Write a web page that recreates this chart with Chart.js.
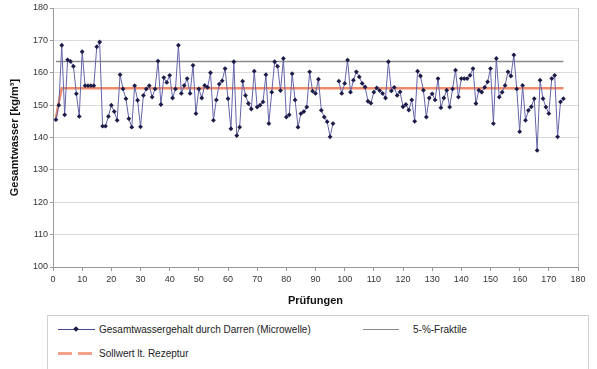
<!DOCTYPE html>
<html>
<head>
<meta charset="utf-8">
<script src="https://cdn.jsdelivr.net/npm/chart.js@4/dist/chart.umd.min.js"></script>
<style>
  body { margin: 0; background: #fff; font-family: "Liberation Sans", Arial, sans-serif; }
  #wrap { position: relative; width: 597px; height: 369px; overflow: hidden; }
  #legende { position: absolute; left: 47px; top: 315px; width: 540px; height: 60px;
             border: 1px solid #d0d0d0; background: #fff; font-size: 10px; color: #222; }
  .item { position: absolute; white-space: nowrap; line-height: 12px; }
  .linie { position: absolute; }
</style>
</head>
<body>
<div id="wrap">
  <canvas id="chart" width="597" height="369"></canvas>
  <div id="legende">
    <div class="linie" style="left:10px;top:13px;width:37px;border-top:1px solid #4a4a90;"></div>
    <div class="linie" style="left:26px;top:11px;width:4px;height:4px;background:#1c1c48;transform:rotate(45deg);"></div>
    <div class="item" style="left:51px;top:8px;">Gesamtwassergehalt durch Darren (Microwelle)</div>
    <div class="linie" style="left:315px;top:13px;width:36px;border-top:1px solid #8a8a8a;"></div>
    <div class="item" style="left:365px;top:8px;">5-%-Fraktile</div>
    <div class="linie" style="left:10px;top:36px;width:14px;border-top:3px solid #f2a387;"></div>
    <div class="linie" style="left:30px;top:36px;width:14px;border-top:3px solid #f2a387;"></div>
    <div class="item" style="left:51px;top:32px;">Sollwert lt. Rezeptur</div>
  </div>
</div>
<script>
// Gesamtwassergehalt je Prüfung (Prüfung 1 ... 175), null = Lücke
const gesamtwasser = [
  145.5, 150, 168.5, 147, 164, 163.5, 162, 153.5, 146.5, 166.5,
  156, 156, 156, 156, 168, 169.5, 143.5, 143.5, 146.5, 150,
  148, 145.3, 159.4, 155, 152, 145.8, 143.2, 156, 151.5, 143.3,
  153, 155, 156, 152.5, 155, 163.6, 150.2, 158.5, 157, 159.2,
  152.2, 155, 168.5, 153.6, 156.1, 158.2, 153.6, 162.3, 147.4, 155,
  152.2, 156.1, 155.5, 160, 145.3, 151.6, 156.5, 157.5, 161.3, 152,
  142.7, 163.4, 140.6, 143.2, 157.4, 153, 150.5, 148.8, 160.5, 149.4,
  150, 151, 159.4, 144.3, 154, 163.4, 162, 154.5, 164.4, 146.3,
  147, 159.7, 151.6, 143.2, 147.4, 148, 149.4, 160.3, 154.3, 153.6,
  158, 148.4, 146.3, 144.9, 140.2, 144.3, null, 157.4, 153.6, 156.7,
  163.9, 154, 157.7, 160.3, 158.7, 156.7, 155.6, 151.2, 150.6, 154,
  155.3, 154.5, 153.6, 152.2, 163.4, 154.4, 155.5, 153, 154.1, 149.5,
  150.2, 148.5, 151.6, 145, 160.5, 159, 154.6, 146.3, 152.2, 153.5,
  151.6, 158.2, 149.2, 152.2, 154.6, 149.4, 155, 160.8, 152.5, 158.2,
  158.2, 158.2, 159.2, 161.3, 150.5, 154.6, 154, 155.5, 157.2, 161.3,
  144.3, 164.4, 152.5, 154, 156.1, 160.3, 159, 165.5, 155, 141.8,
  156.1, 145.3, 148.4, 149.5, 152, 136, 157.7, 152, 149.4, 147.4,
  158.2, 159.2, 140.2, 151, 152
];

// 5-%-Fraktile (Anfang/Ende der Linie)
const fraktileX = [1, 175];
const fraktileY = [163.5, 163.5];

// Sollwert lt. Rezeptur
const sollwertX = [1, 2, 3, 175];
const sollwertY = [146, 151, 155.2, 155.2];

// Achsen
const xMin = 0, xMax = 180, xSchritt = 10;
const yMin = 100, yMax = 180, ySchritt = 10;

const schrift = "'Liberation Sans', Arial, sans-serif";

const punkte = gesamtwasser.map((v, i) => ({ x: i + 1, y: v }));
const fraktile = fraktileX.map((x, i) => ({ x: x, y: fraktileY[i] }));
const sollwert = sollwertX.map((x, i) => ({ x: x, y: sollwertY[i] }));

new Chart(document.getElementById('chart'), {
    type: 'line',
    data: {
        datasets: [
            {
                label: 'Gesamtwassergehalt durch Darren (Microwelle)', data: punkte,
                borderColor: '#6464a8', borderWidth: 1,
                pointStyle: 'rectRot', pointRadius: 2.4,
                pointBackgroundColor: '#1c1c48', pointBorderColor: '#1c1c48', pointBorderWidth: 0,
                spanGaps: false, order: 1
            },
            {
                label: '5-%-Fraktile', data: fraktile,
                borderColor: '#8a8a8a', borderWidth: 1.5, pointRadius: 0, order: 3
            },
            {
                label: 'Sollwert lt. Rezeptur', data: sollwert,
                borderColor: '#f08a68', borderWidth: 2.5, pointRadius: 0, order: 2
            }
        ]
    },
    options: {
        responsive: false,
        animation: false,
        layout: { padding: { left: 0, top: 8, right: 19, bottom: 57 } },
        plugins: { legend: { display: false }, tooltip: { enabled: false } },
        scales: {
            x: {
                type: 'linear', min: xMin, max: xMax,
                ticks: { stepSize: xSchritt, color: '#333', font: { family: schrift, size: 9 }, padding: 3, maxRotation: 0 },
                grid: {
                    color: ctx => (ctx.tick && ctx.tick.value === xMax) ? '#c4c4c4' : 'rgba(0,0,0,0)',
                    drawTicks: true, tickLength: 4, tickColor: '#999'
                },
                border: { color: '#999' },
                title: { display: true, text: 'Prüfungen', color: '#111',
                         font: { family: schrift, size: 11, weight: 'bold' }, padding: { top: 0, bottom: 4 } },
                afterFit: s => { s.height = 45; }
            },
            y: {
                min: yMin, max: yMax,
                ticks: { stepSize: ySchritt, color: '#333', font: { family: schrift, size: 9 }, padding: 2 },
                grid: { color: '#dadada', drawTicks: true, tickLength: 3, tickColor: '#999' },
                border: { color: '#999' },
                title: { display: true, text: 'Gesamtwasser [kg/m³]', color: '#111',
                         font: { family: schrift, size: 11, weight: 'bold' }, padding: { top: 8, bottom: 0 } },
                afterFit: s => { s.width = 53; }
            }
        }
    }
});
</script>
</body>
</html>
